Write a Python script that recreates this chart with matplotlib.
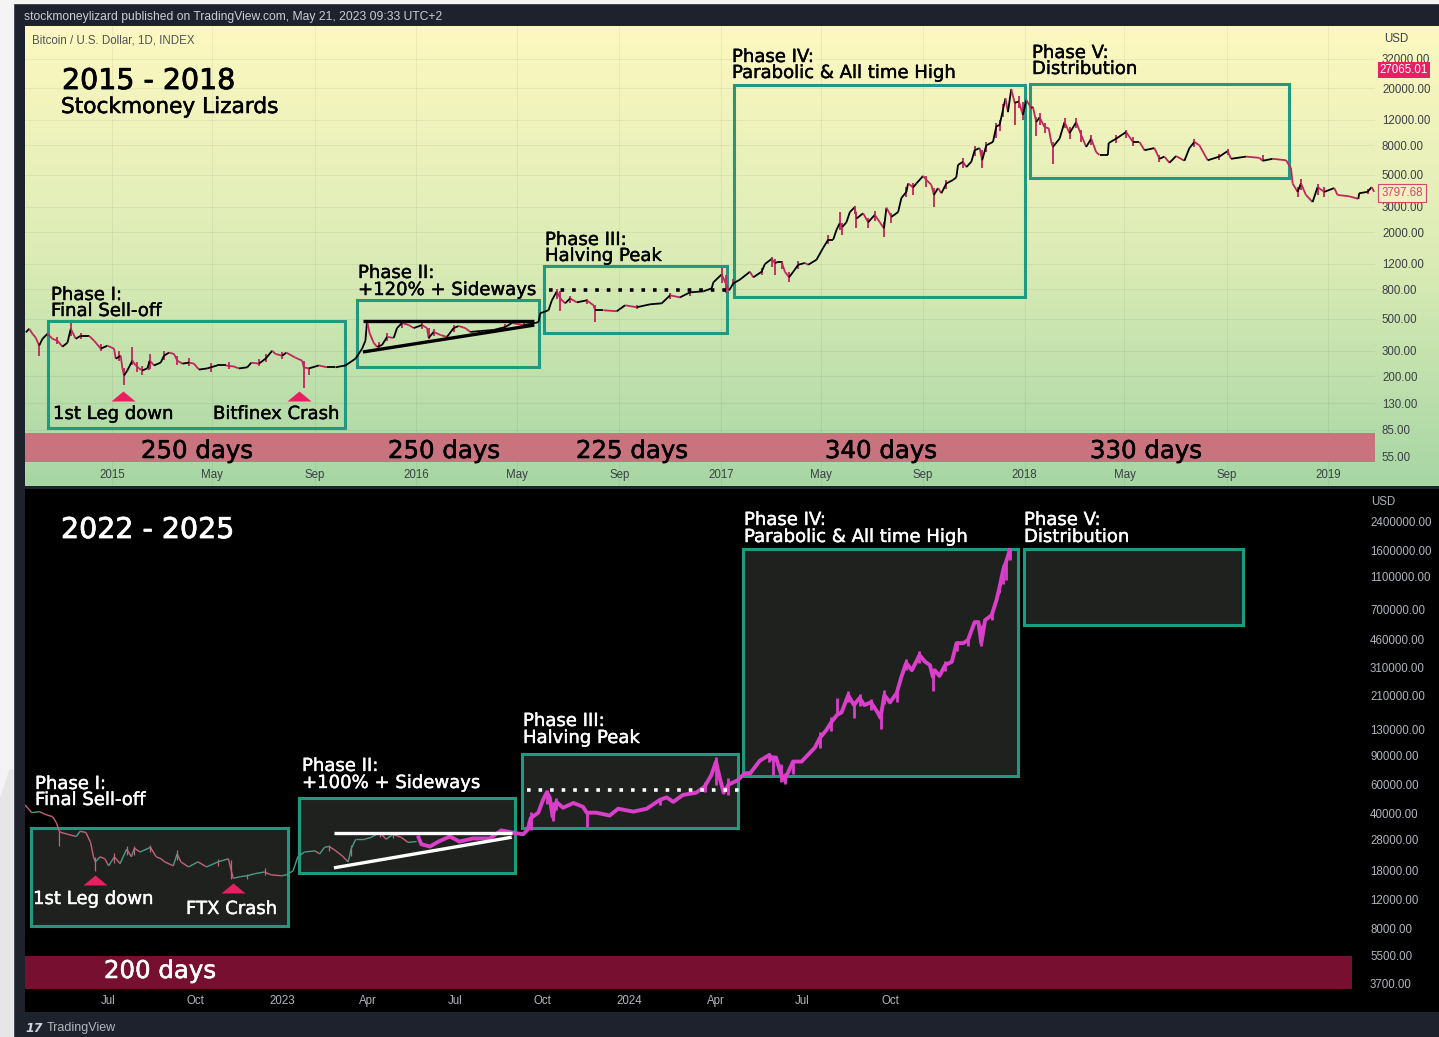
import matplotlib
matplotlib.use("Agg")
import matplotlib.pyplot as plt
import matplotlib.dates as mdates
import matplotlib.patheffects as pe
import numpy as np
from matplotlib.collections import LineCollection
from matplotlib.colors import LinearSegmentedColormap
from matplotlib.patches import Rectangle, Polygon

W, H = 1439, 1037

# 2015-2019 price, days counted from 2015-01-01
top_days = [-104, -100, -96, -92, -88, -84, -78, -72, -66, -60, -54, -50, -44, -38, -28, -22, -14, -6, 2, 4, 10, 12,
            14, 18, 24, 28, 32, 36, 42, 45, 50, 58, 62, 68, 74, 78, 84, 92, 98, 104, 114, 118, 126, 136, 146, 152,
            162, 167, 176, 184, 192, 196, 204, 209, 220, 228, 230, 236, 248, 258, 268, 280, 292, 300, 304, 306, 309,
            314, 318, 324, 330, 338, 342, 348, 356, 362, 372, 378, 380, 386, 394, 402, 410, 416, 424, 430, 442, 458,
            472, 480, 494, 508, 512, 514, 524, 528, 534, 538, 544, 550, 558, 570, 578, 580, 590, 606, 616, 630, 646,
            660, 670, 682, 694, 710, 720, 722, 732, 737, 741, 746, 754, 766, 770, 780, 784, 792, 796, 800, 804, 808,
            813, 818, 824, 832, 836, 846, 854, 860, 866, 870, 874, 877, 882, 886, 892, 894, 902, 908, 916, 922, 927,
            930, 936, 944, 948, 954, 956, 962, 966, 974, 978, 984, 987, 992, 996, 1002, 1010, 1014, 1016, 1022, 1026,
            1032, 1036, 1042, 1045, 1050, 1058, 1062, 1066, 1070, 1073, 1076, 1080, 1084, 1089, 1094, 1098, 1104, 1106,
            1110, 1114, 1120, 1125, 1128, 1130, 1138, 1144, 1150, 1158, 1164, 1170, 1176, 1182, 1186, 1196, 1197, 1206,
            1218, 1226, 1234, 1240, 1252, 1258, 1264, 1270, 1278, 1288, 1294, 1300, 1306, 1316, 1330, 1340, 1344, 1362,
            1378, 1382, 1394, 1410, 1416, 1418, 1424, 1428, 1434, 1442, 1448, 1456, 1468, 1472, 1486, 1497, 1498, 1508,
            1513, 1516]
top_prices = [402, 426, 393, 369, 325, 363, 393, 363, 352, 320, 341, 426, 363, 381, 381, 352, 310, 325, 310, 264, 277,
              226, 202, 219, 256, 237, 226, 219, 226, 256, 237, 248, 277, 291, 285, 256, 244, 248, 244, 222, 226, 230,
              237, 237, 233, 226, 230, 248, 244, 264, 300, 285, 277, 291, 268, 256, 230, 226, 237, 230, 230, 237, 264,
              310, 352, 484, 398, 340, 319, 329, 374, 368, 431, 467, 452, 431, 452, 431, 368, 405, 386, 374, 431, 445,
              431, 405, 411, 418, 438, 467, 452, 467, 475, 546, 573, 671, 775, 692, 640, 692, 650, 671, 620, 573, 573,
              564, 620, 601, 630, 640, 727, 704, 763, 775, 813, 894, 1016, 880, 787, 880, 935, 1060, 970, 1060, 1200,
              1300, 1220, 1240, 1240, 1060, 970, 1060, 1185, 1220, 1185, 1285, 1555, 1770, 1770, 2070, 2310, 2170,
              2340, 2750, 2980, 2480, 2700, 2340, 2630, 2340, 2120, 2950, 2550, 2750, 3450, 3800, 4350, 4080, 4350,
              4900, 4600, 4250, 3620, 4040, 3720, 4350, 4600, 4800, 5850, 6150, 5650, 6150, 7400, 7650, 6300, 8000,
              8450, 10800, 11100, 14100, 16950, 13600, 19700, 15800, 16100, 13000, 16500, 14500, 14800, 11600, 12500,
              10700, 10500, 8450, 7800, 8900, 11600, 9700, 11600, 9450, 7800, 8900, 7180, 6850, 6850, 8300, 8900, 9900,
              8450, 8450, 7400, 7650, 6450, 6680, 6050, 6740, 6250, 7650, 8450, 8000, 6300, 6680, 7300, 6450, 6680,
              6550, 6250, 6450, 6300, 5580, 4350, 3800, 4350, 3620, 3230, 4100, 3800, 4040, 3620, 3540, 3400, 3720,
              3800, 4100, 3800]
top_wick_days = [-88, -50, 14, 24, 44, 230, 236, 380, 538, 580, 732, 737, 796, 813, 874, 877, 894, 927, 962, 987,
                 1045, 1062, 1084, 1094, 1110, 1130, 1382,
                 -66, -38, -14, 8, 30, 36, 45, 62, 78, 92, 118, 140, 176, 184, 204, 320, 330, 348, 372, 386, 410, 472,
                 494, 534, 550, 570, 630, 670, 694, 746, 780, 792, 804, 824, 860, 892, 908, 916, 936, 954, 978, 1002,
                 1022, 1036, 1050, 1066, 1070, 1089, 1114, 1120, 1144, 1150, 1158, 1164, 1176, 1206, 1218, 1226, 1258,
                 1300, 1330, 1340, 1424, 1428, 1448, 1456, 1508]
top_wick_lows = [277, 381, 173, 237, 219, 165, 202, 360, 564, 475, 880, 760, 1010, 900, 2070, 1910, 2120, 1850, 3620,
                 3000, 5580, 9000, 11100, 12000, 9300, 5950, 6250,
                 335, 360, 300, 255, 215, 205, 225, 260, 240, 235, 215, 225, 235, 250, 262, 300, 350, 430, 425, 380,
                 405, 420, 430, 690, 640, 630, 585, 690, 720, 840, 1000, 1150, 1100, 1100, 1650, 2650, 2150, 2400,
                 2300, 3500, 4100, 4000, 5600, 6700, 7200, 10000, 12500, 14500, 11000, 9800, 10500, 8900, 10500, 8500,
                 8000, 8300, 9000, 7900, 6100, 7800, 6300, 6800, 3500, 3900, 3600, 3500, 3650]
top_wick_highs = [325, 465, 226, 320, 256, 256, 226, 431, 775, 620, 1130, 1000, 1300, 1060, 2750, 2300, 2750, 2340,
                  4350, 4040, 7400, 11500, 15800, 16000, 12600, 8450, 6800,
                  375, 400, 335, 300, 250, 235, 285, 300, 275, 265, 245, 250, 262, 285, 295, 345, 400, 490, 475, 425,
                  455, 460, 480, 800, 720, 690, 620, 760, 790, 940, 1120, 1340, 1260, 1250, 1900, 3050, 2500, 2800,
                  2700, 4100, 4900, 4600, 6500, 7900, 8400, 12000, 15500, 17500, 13500, 11500, 12300, 10700, 12300,
                  10200, 9500, 9500, 10300, 9100, 6900, 8800, 7000, 7500, 4100, 4700, 4300, 4100, 4000]

# 2022-2023 actual price, days counted from 2022-07-01
real_days = [-87, -80, -72, -65, -58, -54, -51, -49, -42, -33, -29, -23, -18, -15, -13, -8, -3, 1, 7, 13, 20, 25, 28,
             34, 45, 51, 56, 60, 69, 73, 77, 85, 95, 104, 116, 127, 130, 132, 140, 147, 155, 165, 172, 183, 188, 195,
             200, 207, 218, 223, 228, 233, 240, 247, 253, 256, 261, 270, 277, 286, 293, 300, 309, 316, 325]
real_prices = [45300, 40600, 41200, 39500, 38400, 35300, 31300, 30800, 30000, 29100, 31300, 30800, 26800, 21900, 20400,
               21900, 21300, 19300, 21900, 19900, 24400, 21900, 24700, 23400, 25000, 21900, 21300, 20400, 19300, 22800,
               20400, 19000, 20400, 19000, 20400, 21300, 18000, 16200, 16600, 16800, 17300, 17700, 17000, 16800, 17000,
               18000, 21900, 23400, 23800, 22800, 25000, 25300, 23800, 22100, 20400, 24400, 28000, 28000, 28700, 30800,
               28000, 30000, 28700, 26800, 27100]
real_wick_days = [-51, -13, 165, 130, 7, 20, 28, 45, 73, 116, 147, 256, 233, 286, 300]
real_wick_lows = [25300, 18000, 17000, 16000, 20000, 22500, 22500, 23500, 20800, 19300, 16000, 22000, 23800, 28800, 28500]
real_wick_highs = [31300, 21900, 18800, 21000, 23000, 25500, 25500, 26000, 24000, 21300, 17300, 26000, 26000, 31000, 31000]

# projected path, pink
proj_days = [327, 330, 339, 348, 360, 370, 384, 402, 414, 425, 437, 442, 445, 453, 458, 462, 465, 468, 472, 479, 490,
             500, 504, 514, 528, 537, 553, 567, 581, 588, 595, 605, 619, 628, 635, 640, 644, 648, 653, 663, 670, 676,
             686, 696, 700, 703, 708, 712, 721, 730, 744, 749, 756, 761, 767, 772, 779, 785, 791, 796, 803, 810, 813,
             817, 823, 830, 835, 840, 846, 854, 860, 865, 868, 870, 875, 881, 888, 893, 900, 905, 912, 916, 919, 923,
             930, 935, 938, 942, 945, 949]
proj_prices = [28700, 26100, 25300, 27100, 29100, 27100, 28300, 28300, 31700, 30800, 30000, 32100, 37600, 40600, 48600,
               54000, 50300, 38400, 47200, 43500, 46500, 44100, 40600, 40600, 39000, 42900, 41200, 42900, 48600, 50300,
               47200, 52000, 53700, 58500, 68600, 83000, 65500, 53700, 60000, 64000, 70500, 70500, 84000, 91000, 85000,
               88000, 70500, 64000, 83000, 83000, 101000, 115000, 129000, 143000, 159000, 165000, 210000, 183000,
               202000, 183000, 190000, 165000, 153000, 210000, 190000, 216000, 272000, 330000, 298000, 368000, 335000,
               320000, 272000, 298000, 275000, 320000, 335000, 435000, 435000, 454000, 584000, 584000, 435000, 600000,
               644000, 794000, 938000, 1207000, 1350000, 1600000]
proj_wick_days = [468, 504, 700, 712, 767, 785, 813, 868, 919, 945,
                  445, 462, 472, 581, 628, 640, 653, 696, 708, 721, 749, 761, 779, 791, 803, 817, 830, 840, 854, 881,
                  893, 905, 930, 938, 942, 949]
proj_wick_lows = [36000, 33000, 68600, 60500, 159000, 153000, 131000, 222000, 420000, 1049000,
                  32000, 46000, 42000, 45000, 54000, 60000, 52000, 82000, 62000, 70000, 100000, 128000, 190000, 180000,
                  170000, 185000, 190000, 300000, 330000, 295000, 390000, 420000, 600000, 880000, 1000000, 1400000]
proj_wick_highs = [47000, 41000, 91000, 70500, 202000, 190000, 160000, 300000, 560000, 1350000,
                   41000, 56000, 50000, 50000, 62000, 88000, 66000, 94000, 80000, 85000, 125000, 155000, 222000, 215000,
                   200000, 225000, 235000, 350000, 390000, 340000, 450000, 480000, 690000, 1000000, 1300000, 1620000]

top_price_ticks = [32000, 20000, 12000, 8000, 5000, 3000, 2000, 1200, 800, 500, 300, 200, 130, 85, 55]
bot_price_ticks = [2400000, 1600000, 1100000, 700000, 460000, 310000, 210000, 130000, 90000, 60000, 40000, 28000,
                   18000, 12000, 8000, 5500, 3700]
top_time_ticks = ["2015-01-01", "2015-05-01", "2015-09-01", "2016-01-01", "2016-05-01", "2016-09-01", "2017-01-01",
                  "2017-05-01", "2017-09-01", "2018-01-01", "2018-05-01", "2018-09-01", "2019-01-01"]
top_time_labels = ["2015", "May", "Sep", "2016", "May", "Sep", "2017", "May", "Sep", "2018", "May", "Sep", "2019"]
bot_time_ticks = ["2022-07-01", "2022-10-01", "2023-01-01", "2023-04-01", "2023-07-01", "2023-10-01", "2024-01-01",
                  "2024-04-01", "2024-07-01", "2024-10-01"]
bot_time_labels = ["Jul", "Oct", "2023", "Apr", "Jul", "Oct", "2024", "Apr", "Jul", "Oct"]

# phase boxes: start, end, low, high
top_boxes = [("2014-10-16", "2015-10-08", 87, 482),
             ("2015-10-22", "2016-05-28", 231, 674),
             ("2016-06-03", "2017-01-09", 398, 1162),
             ("2017-01-17", "2018-01-02", 708, 20970),
             ("2018-01-08", "2018-11-15", 4740, 21300)]
bot_boxes = [("2022-04-11", "2023-01-07", 8340, 32600),
             ("2023-01-18", "2023-09-03", 17500, 50000),
             ("2023-09-10", "2024-04-24", 32600, 92500),
             ("2024-04-29", "2025-02-13", 68000, 1620000),
             ("2025-02-19", "2025-10-07", 560000, 1620000)]

TEAL = "#1f9a80"
CRIMSON = "#e91e63"
TOP_START = mdates.datestr2num("2015-01-01")
BOT_START = mdates.datestr2num("2022-07-01")
TICK_FONT = "Liberation Sans"
TRIANGLE = [(-1.2, -0.5), (1.2, -0.5), (0, 0.5)]


def d(s):
    return mdates.datestr2num(s)


def px_axes(x0, y0, x1, y1, **kw):
    return fig.add_axes([x0 / W, 1 - y1 / H, (x1 - x0) / W, (y1 - y0) / H], **kw)


def label(x, y, s, color="black", size=13, weight=0.3, **kw):
    kw.setdefault("va", "center")
    y = y + (1 if "family" in kw else 2)
    t = fig.text(x / W, 1 - y / H, s, color=color, fontsize=size, **kw)
    if weight:
        t.set_path_effects([pe.withStroke(linewidth=weight, foreground=color)])


def candles_line(ax, days, prices, start, up, down, lw):
    xs = start + np.array(days)
    pts = np.column_stack([xs, prices])
    segs = np.stack([pts[:-1], pts[1:]], axis=1)
    cols = [up if b >= a else down for a, b in zip(prices[:-1], prices[1:])]
    ax.add_collection(LineCollection(segs, colors=cols, linewidths=lw, zorder=4))


def setup_axis(ax, xlim, ylim, time_ticks, time_labels, price_ticks, tick_color, pad_y, pad_x):
    ax.set_yscale("log")
    ax.set_xlim(d(xlim[0]), d(xlim[1]))
    ax.set_ylim(*ylim)
    ax.patch.set_alpha(0)
    for s in ax.spines.values():
        s.set_visible(False)
    ax.yaxis.tick_right()
    ax.set_xticks(d(time_ticks))
    ax.set_xticklabels(time_labels)
    ax.set_yticks(price_ticks)
    ax.set_yticklabels(["%.2f" % p for p in price_ticks])
    ax.yaxis.set_minor_locator(plt.NullLocator())
    ax.tick_params(axis="x", length=0, pad=pad_x, colors=tick_color, labelsize=8.3)
    ax.tick_params(axis="y", length=0, pad=pad_y, colors=tick_color, labelsize=8.3)
    for t in ax.get_xticklabels() + ax.get_yticklabels():
        t.set_fontfamily(TICK_FONT)


fig = plt.figure(figsize=(W / 100, H / 100), dpi=100, facecolor="#1e222d")

# white page edge left and top of the screenshot
fig.add_artist(Rectangle((0, 0), 13 / W, 1, transform=fig.transFigure, color="#f4f4f4", zorder=-5))
fig.add_artist(Rectangle((0, 1 - 3 / H), 1, 3 / H, transform=fig.transFigure, color="#f4f4f4", zorder=-5))
fig.add_artist(Polygon([(0, 1 - 1037 / H), (0, 1 - 800 / H), (10 / W, 1 - 770 / H), (13 / W, 1 - 770 / H),
                        (13 / W, 0)], transform=fig.transFigure, color="#e6e6e6", zorder=-4))

# top panel background
bg = px_axes(25, 26, 1439, 486)
bg.axis("off")
cmap = LinearSegmentedColormap.from_list("pane", ["#fdf8c0", "#dcecb6", "#a6d6a4"])
bg.imshow(np.linspace(0, 1, 256).reshape(-1, 1), aspect="auto", cmap=cmap)

ax1 = px_axes(25, 26, 1375, 486)
setup_axis(ax1, ("2014-09-18", "2019-02-26"), (34.5, 53900), top_time_ticks, top_time_labels, top_price_ticks,
           "#3b3f46", 5, -12)
ax1.grid(True, which="major", color="#000000", alpha=0.05, lw=0.7)
ax1.set_axisbelow(True)
ax1.axhspan(50.6, 80.4, color="#c9737f", zorder=2, lw=0)
for start, end, low, high in top_boxes:
    ax1.add_patch(Rectangle((d(start), low), d(end) - d(start), high - low, fill=False,
                            ec=TEAL, lw=2.2, zorder=3))
ax1.vlines(TOP_START + np.array(top_wick_days), top_wick_lows, top_wick_highs, color="#c2255c", lw=1.3, zorder=4)
candles_line(ax1, top_days, top_prices, TOP_START, "#000000", "#c2255c", 1.3)
ax1.plot(d(["2015-10-29", "2016-05-22"]), [486, 486], color="black", lw=2.4, zorder=5, solid_capstyle="butt")
ax1.plot(d(["2015-10-29", "2016-05-22"]), [294, 452], color="black", lw=2.4, zorder=5, solid_capstyle="butt")
ax1.plot(d(["2016-06-08", "2017-01-07"]), [790, 790], color="black", lw=2.6, zorder=5,
         linestyle=(0, (1, 2.2)), dash_capstyle="butt")
ax1.plot(d(["2015-01-14", "2015-08-13"]), [145, 145], ls="none",
         marker=TRIANGLE, ms=17.3, color=CRIMSON, mew=0, zorder=5)

# bottom panel
bg2 = px_axes(25, 489, 1439, 1012)
bg2.axis("off")
bg2.add_patch(Rectangle((0, 0), 1, 1, transform=bg2.transAxes, color="black"))

ax2 = px_axes(25, 489, 1352, 1012)
setup_axis(ax2, ("2022-04-05", "2026-01-30"), (2497, 3760000), bot_time_ticks, bot_time_labels, bot_price_ticks,
           "#b2b5be", 13, -12)
ax2.axhspan(3450, 5500, color="#770f30", zorder=2, lw=0)
for start, end, low, high in bot_boxes:
    ax2.add_patch(Rectangle((d(start), low), d(end) - d(start), high - low, fc="#1f211f",
                            ec=TEAL, lw=2.2, zorder=3))
ax2.vlines(BOT_START + np.array(real_wick_days), real_wick_lows, real_wick_highs, color="#c9607a", lw=0.9, zorder=4)
candles_line(ax2, real_days, real_prices, BOT_START, "#4a9a88", "#c9607a", 1.0)
ax2.vlines(BOT_START + np.array(proj_wick_days), proj_wick_lows, proj_wick_highs, color="#d93fc8", lw=2.0, zorder=4)
ax2.plot(BOT_START + np.array(proj_days), proj_prices, color="#d93fc8", lw=2.8, zorder=4, solid_joinstyle="round")
ax2.plot(d(["2023-02-24", "2023-08-30"]), [30400, 30400], color="white", lw=2.4, zorder=5, solid_capstyle="butt")
ax2.plot(d(["2023-02-24", "2023-08-30"]), [18760, 28800], color="white", lw=2.4, zorder=5, solid_capstyle="butt")
ax2.plot(d(["2023-09-15", "2024-04-26"]), [55600, 55600], color="white", lw=2.6, zorder=5,
         linestyle=(0, (1, 2.2)), dash_capstyle="butt")
ax2.plot(d(["2022-06-18", "2022-11-10"]), [15870, 14090], ls="none",
         marker=TRIANGLE, ms=17.3, color=CRIMSON, mew=0, zorder=5)

# header, footer
label(24, 16, "stockmoneylizard published on TradingView.com, May 21, 2023 09:33 UTC+2", "#c8ccd4", 8.7, 0,
      family=TICK_FONT)
label(32, 39, "Bitcoin / U.S. Dollar, 1D, INDEX", "#50535a", 8.3, 0, family=TICK_FONT)
label(25, 1026, "17", "#d1d4dc", 9, 0, fontweight="bold", fontstyle="italic")
label(47, 1027, "TradingView", "#b2b5be", 9, 0, family=TICK_FONT)
label(1384, 38, "USD", "#3b3f46", 8.3, 0, family=TICK_FONT)
label(1371, 501, "USD", "#b2b5be", 8.3, 0, family=TICK_FONT)

# top annotations
label(62, 79, "2015 - 2018", "black", 20.5, 0.6)
label(61, 105, "Stockmoney Lizards", "black", 15.6, 0.4)
label(51, 293, "Phase I:")
label(51, 309, "Final Sell-off")
label(53, 412, "1st Leg down")
label(213, 412, "Bitfinex Crash")
label(358, 271, "Phase II:")
label(358, 288, "+120% + Sideways")
label(545, 238, "Phase III:")
label(545, 254, "Halving Peak")
label(732, 55, "Phase IV:")
label(732, 71, "Parabolic & All time High")
label(1032, 51, "Phase V:")
label(1032, 67, "Distribution")
for cx, s in zip([197, 444, 632, 881, 1146], ["250 days", "250 days", "225 days", "340 days", "330 days"]):
    label(cx, 449, s, "black", 17.6, 0.4, ha="center")
label(1404, 69, "27065.01", "white", 8.3, 0, ha="center", family=TICK_FONT,
      bbox=dict(boxstyle="square,pad=0.15", fc="#e91e63", ec="none"))
label(1402, 192, "3797.68", "#d0486e", 8.3, 0, ha="center", family=TICK_FONT,
      bbox=dict(boxstyle="square,pad=0.3", fc="#f4eec0", ec="#d0486e", lw=0.8))

# bottom annotations
label(61, 528, "2022 - 2025", "white", 20.5, 0.6)
label(35, 782, "Phase I:", "white")
label(35, 798, "Final Sell-off", "white")
label(33, 897, "1st Leg down", "white")
label(186, 907, "FTX Crash", "white")
label(302, 764, "Phase II:", "white")
label(302, 781, "+100% + Sideways", "white")
label(523, 719, "Phase III:", "white")
label(523, 736, "Halving Peak", "white")
label(744, 518, "Phase IV:", "white")
label(744, 535, "Parabolic & All time High", "white")
label(1024, 518, "Phase V:", "white")
label(1024, 535, "Distribution", "white")
label(160, 969, "200 days", "white", 17.6, 0.4, ha="center")

fig.savefig("out.png", dpi=100, facecolor=fig.get_facecolor())
